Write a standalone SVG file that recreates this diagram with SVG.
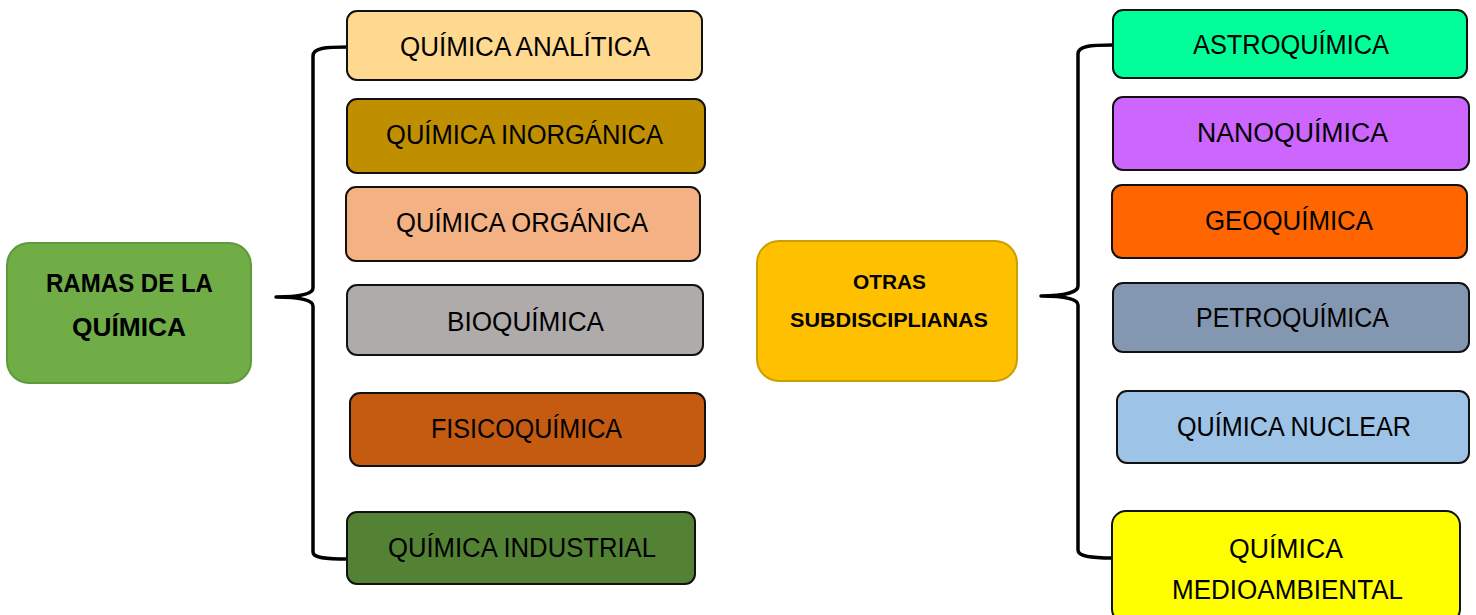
<svg xmlns="http://www.w3.org/2000/svg" width="1476" height="615" viewBox="0 0 1476 615">
<style>
.box{stroke:#111;stroke-width:2}
.t{font-family:"Liberation Sans",Arial,sans-serif;font-size:27px;fill:#000}
.b{font-family:"Liberation Sans",Arial,sans-serif;font-weight:bold;fill:#000}
.br{fill:none;stroke:#000;stroke-width:3.5;stroke-linejoin:round}
</style>
<rect width="1476" height="615" fill="#fff"/>
<g id="connectors">
<path class="br" d="M348,47 C325,47 313,48 313,56 L313,288 C313,294 300,297 276,297 C300,297 313,300 313,306 L313,552 C313,558 325,559 348,559"/>
<path class="br" d="M1113,45 C1090,45 1078,46 1078,54 L1078,286 C1078,292 1065,296 1041,296 C1065,296 1078,299 1078,305 L1078,550 C1078,556 1090,558 1112,558"/>
</g>
<g id="n-ramas">
<rect x="7" y="243" width="244" height="140" rx="22" fill="#70AD47" stroke="#5E9A3A" stroke-width="2"/>
<text class="b" x="46" y="292" font-size="26" textLength="167" lengthAdjust="spacingAndGlyphs">RAMAS DE LA</text>
<text class="b" x="72" y="336" font-size="26" textLength="114" lengthAdjust="spacingAndGlyphs">QUÍMICA</text>
</g>
<g id="n-analitica">
<rect class="box" x="347" y="11" width="355" height="69" rx="10" fill="#FFD98F" stroke="#333" stroke-width="1.5"/>
<text class="t" x="400" y="56" textLength="250" lengthAdjust="spacingAndGlyphs">QUÍMICA ANALÍTICA</text>
</g>
<g id="n-inorganica">
<rect class="box" x="347" y="99" width="358" height="74" rx="10" fill="#BF8F00"/>
<text class="t" x="386" y="144" textLength="277" lengthAdjust="spacingAndGlyphs">QUÍMICA INORGÁNICA</text>
</g>
<g id="n-organica">
<rect class="box" x="346" y="187" width="354" height="74" rx="10" fill="#F4B183"/>
<text class="t" x="396" y="232" textLength="252" lengthAdjust="spacingAndGlyphs">QUÍMICA ORGÁNICA</text>
</g>
<g id="n-bioquimica">
<rect class="box" x="347" y="285" width="356" height="70" rx="10" fill="#AFABAB"/>
<text class="t" x="447" y="331" textLength="157" lengthAdjust="spacingAndGlyphs">BIOQUÍMICA</text>
</g>
<g id="n-fisicoquimica">
<rect class="box" x="350" y="393" width="355" height="73" rx="10" fill="#C55A11"/>
<text class="t" x="431" y="438" textLength="191" lengthAdjust="spacingAndGlyphs">FISICOQUÍMICA</text>
</g>
<g id="n-industrial">
<rect class="box" x="347" y="512" width="348" height="72" rx="10" fill="#548235"/>
<text class="t" x="388" y="557" textLength="268" lengthAdjust="spacingAndGlyphs">QUÍMICA INDUSTRIAL</text>
</g>
<g id="n-otras">
<rect x="757" y="241" width="260" height="140" rx="22" fill="#FFC000" stroke="#C9A000" stroke-width="2"/>
<text class="b" x="853" y="289" font-size="21" textLength="73" lengthAdjust="spacingAndGlyphs">OTRAS</text>
<text class="b" x="790" y="327" font-size="21" textLength="198" lengthAdjust="spacingAndGlyphs">SUBDISCIPLIANAS</text>
</g>
<g id="n-astro">
<rect class="box" x="1113" y="10" width="354" height="68" rx="10" fill="#00FF99" stroke="#333" stroke-width="1.5"/>
<text class="t" x="1193" y="54" textLength="196" lengthAdjust="spacingAndGlyphs">ASTROQUÍMICA</text>
</g>
<g id="n-nano">
<rect class="box" x="1113" y="97" width="356" height="73" rx="10" fill="#CC66FF"/>
<text class="t" x="1197" y="142" textLength="191" lengthAdjust="spacingAndGlyphs">NANOQUÍMICA</text>
</g>
<g id="n-geo">
<rect class="box" x="1112" y="185" width="355" height="73" rx="10" fill="#FF6600"/>
<text class="t" x="1205" y="230" textLength="168" lengthAdjust="spacingAndGlyphs">GEOQUÍMICA</text>
</g>
<g id="n-petro">
<rect class="box" x="1113" y="283" width="356" height="69" rx="10" fill="#8497B0"/>
<text class="t" x="1196" y="327" textLength="193" lengthAdjust="spacingAndGlyphs">PETROQUÍMICA</text>
</g>
<g id="n-nuclear">
<rect class="box" x="1117" y="391" width="352" height="72" rx="10" fill="#9DC3E6"/>
<text class="t" x="1177" y="436" textLength="234" lengthAdjust="spacingAndGlyphs">QUÍMICA NUCLEAR</text>
</g>
<g id="n-medio">
<rect class="box" x="1112" y="511" width="348" height="112" rx="14" fill="#FFFF00"/>
<text class="t" x="1229" y="558" textLength="114" lengthAdjust="spacingAndGlyphs">QUÍMICA</text>
<text class="t" x="1172" y="599" textLength="231" lengthAdjust="spacingAndGlyphs">MEDIOAMBIENTAL</text>
</g>
</svg>
